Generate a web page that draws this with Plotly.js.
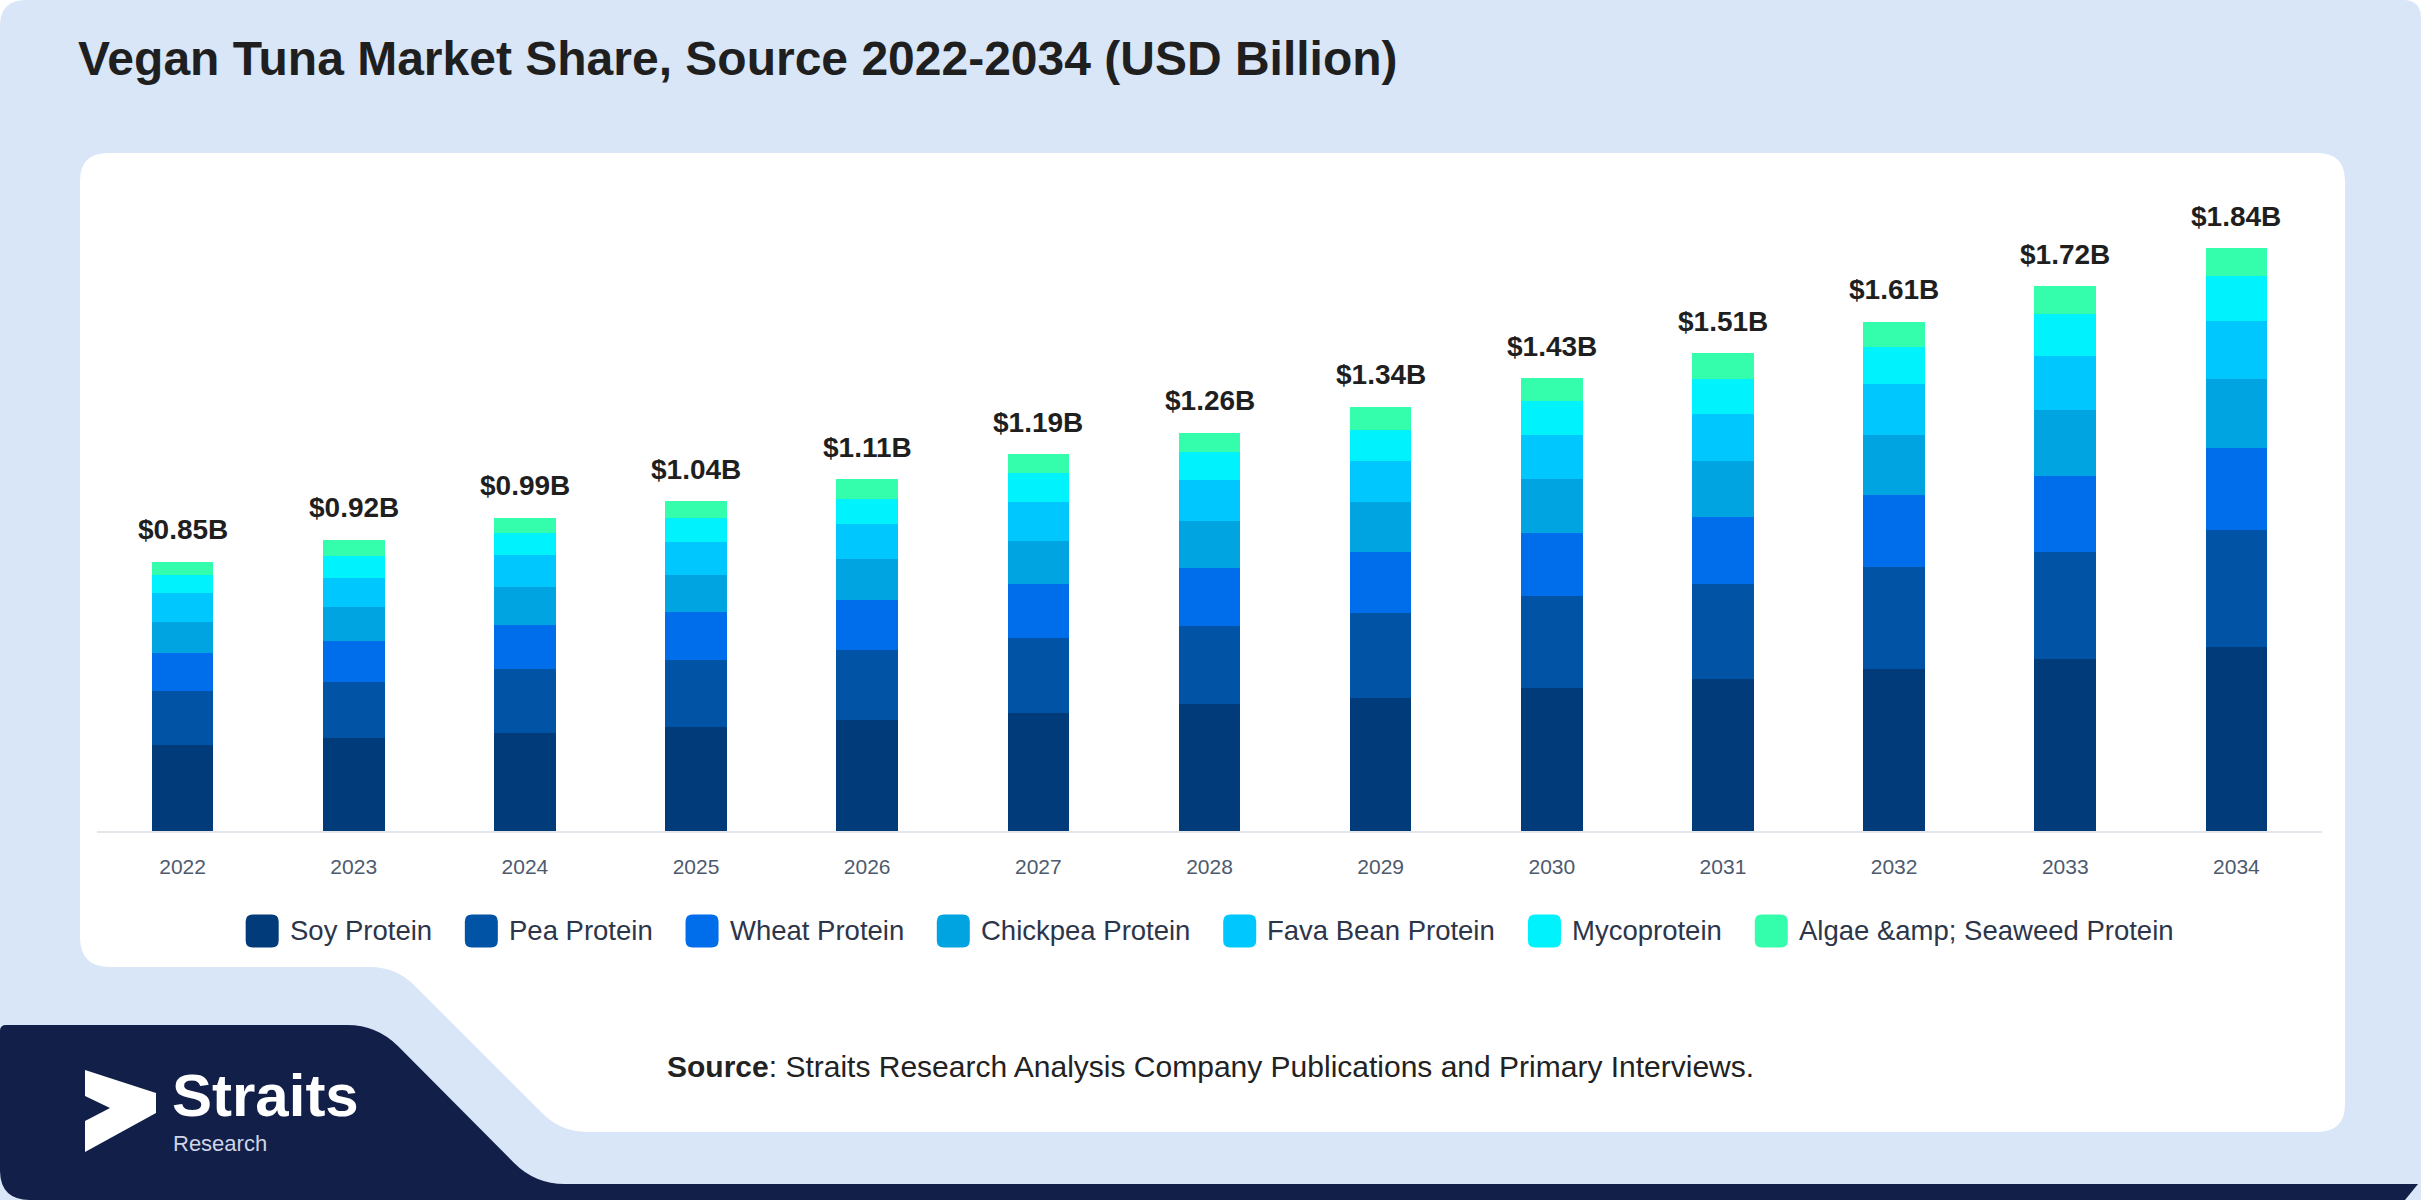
<!DOCTYPE html>
<html>
<head>
<meta charset="utf-8">
<script src="https://cdn.plot.ly/plotly-3.0.1.min.js"></script>
<style>
  html, body { margin: 0; padding: 0; background: #ffffff; overflow: hidden; }
  #chart { width: 2422px; height: 1200px; }
</style>
</head>
<body>
<div id="chart"></div>
<script>
// ---------------- DATA ----------------
const years = ['2022','2023','2024','2025','2026','2027','2028','2029','2030','2031','2032','2033','2034'];
const totals = [0.85, 0.92, 0.99, 1.04, 1.11, 1.19, 1.26, 1.34, 1.43, 1.51, 1.61, 1.72, 1.84];
const seriesNames = ['Soy Protein', 'Pea Protein', 'Wheat Protein', 'Chickpea Protein', 'Fava Bean Protein', 'Mycoprotein', 'Algae &amp; Seaweed Protein'];
const soyProtein      = [0.271, 0.293, 0.311, 0.330, 0.351, 0.372, 0.401, 0.420, 0.453, 0.480, 0.511, 0.543, 0.581];
const peaProtein      = [0.171, 0.178, 0.200, 0.211, 0.221, 0.239, 0.247, 0.270, 0.288, 0.302, 0.322, 0.337, 0.371];
const wheatProtein    = [0.120, 0.128, 0.140, 0.150, 0.159, 0.169, 0.182, 0.191, 0.202, 0.211, 0.229, 0.241, 0.258];
const chickpeaProtein = [0.097, 0.108, 0.120, 0.119, 0.128, 0.137, 0.149, 0.158, 0.169, 0.177, 0.188, 0.209, 0.219];
const favaBeanProtein = [0.093, 0.091, 0.100, 0.102, 0.112, 0.123, 0.129, 0.131, 0.139, 0.148, 0.162, 0.172, 0.182];
const mycoprotein     = [0.058, 0.070, 0.070, 0.077, 0.079, 0.090, 0.091, 0.098, 0.109, 0.111, 0.116, 0.130, 0.141];
const algaeSeaweed    = [0.041, 0.050, 0.049, 0.053, 0.061, 0.060, 0.060, 0.071, 0.070, 0.080, 0.081, 0.089, 0.089];
const seriesValues = [soyProtein, peaProtein, wheatProtein, chickpeaProtein, favaBeanProtein, mycoprotein, algaeSeaweed];
const titleText = 'Vegan Tuna Market Share, Source 2022-2034 (USD Billion)';
const sourceText = '<b>Source</b>: Straits Research Analysis Company Publications and Primary Interviews.';

// ---------------- STYLE ----------------
const colors = ['#023b79', '#0153a6', '#006deb', '#00a4e1', '#00c7fd', '#00f2fc', '#34fdab'];
const FONT = 'Liberation Sans, Arial, Helvetica, sans-serif';
const W = 2422, H = 1200;
const M = { l: 97, r: 100, t: 198, b: 369 };
const PW = W - M.l - M.r, PH = H - M.t - M.b;
const X = px => (px - M.l) / PW;
const Y = py => (H - M.b - py) / PH;

function roundedPoly(pts) {
  const n = pts.length;
  let d = '';
  const f = (x, y) => X(x).toFixed(5) + ',' + Y(y).toFixed(5);
  for (let i = 0; i < n; i++) {
    const p = pts[i], prev = pts[(i - 1 + n) % n], next = pts[(i + 1) % n];
    const r = p[2] || 0;
    const cmd = i === 0 ? 'M' : 'L';
    if (r > 0) {
      const dx1 = prev[0] - p[0], dy1 = prev[1] - p[1], l1 = Math.hypot(dx1, dy1);
      const dx2 = next[0] - p[0], dy2 = next[1] - p[1], l2 = Math.hypot(dx2, dy2);
      const ax = p[0] + dx1 / l1 * r, ay = p[1] + dy1 / l1 * r;
      const bx = p[0] + dx2 / l2 * r, by = p[1] + dy2 / l2 * r;
      d += cmd + f(ax, ay) + ' Q' + f(p[0], p[1]) + ' ' + f(bx, by) + ' ';
    } else {
      d += cmd + f(p[0], p[1]) + ' ';
    }
  }
  return d + 'Z';
}
function pshape(pts, color) {
  return { type: 'path', xref: 'paper', yref: 'paper', layer: 'below', path: roundedPoly(pts),
           fillcolor: color, line: { width: 0 } };
}

// ---------------- TRACES ----------------
const traces = seriesNames.map((name, i) => ({
  type: 'bar',
  name: name.replace('&amp;', '&'),
  x: years,
  y: seriesValues[i],
  marker: { color: colors[i], line: { width: 0 } },
  showlegend: false,
  hoverinfo: 'skip'
}));

// ---------------- DECOR ----------------
const shapes = [
  pshape([[0, 0, 26], [2421, 0, 18], [2421, 1200, 0], [0, 1200, 0]], '#d9e6f8'),
  pshape([[80, 153, 28], [2345, 153, 28], [2345, 1132, 28], [561, 1132, 26], [396, 967, 26], [80, 967, 30]], '#ffffff'),
  pshape([[0, 1025, 6], [377, 1025, 30], [535, 1184, 30], [2418, 1184, 0], [2405, 1200, 0], [0, 1200, 30]], '#121f48'),
  pshape([[85, 1070, 0], [156, 1093, 0], [156, 1113, 0], [85, 1152, 0], [85, 1121, 0], [110, 1108, 0], [85, 1096, 0]], '#ffffff')
];

const annotations = [];
function ann(px, py, text, size, color, xanchor, extra) {
  annotations.push(Object.assign({
    xref: 'paper', yref: 'paper', x: X(px), y: Y(py), text: text, showarrow: false,
    xanchor: xanchor, yanchor: 'middle', font: { family: FONT, size: size, color: color }
  }, extra || {}));
}
ann(76, 58, '<b>' + titleText + '</b>', 48, '#1f1f1f', 'left');
ann(1210, 1066, sourceText, 30, '#222222', 'center');
ann(170, 1095, '<b>Straits</b>', 60, '#ffffff', 'left', { height: 50, valign: 'middle' });
ann(171, 1143, 'Research', 22, '#cfd5e6', 'left', { height: 20, valign: 'middle' });

// total labels above stacks (category index positions)
years.forEach((yr, i) => {
  annotations.push({
    xref: 'x', yref: 'y', x: i, y: totals[i], yanchor: 'middle', xanchor: 'center', yshift: 32,
    text: '<b>$' + totals[i].toFixed(2) + 'B</b>', showarrow: false,
    font: { family: FONT, size: 28, color: '#1f1f1f' }
  });
});

// custom legend
const LEG_SIZE = 27.5, MK = 33, GAP_IN = 11, GAP_OUT = 33, LEG_CY = 931;
const ctx = document.createElement('canvas').getContext('2d');
ctx.font = LEG_SIZE + 'px "Liberation Sans", Arial, sans-serif';
const widths = seriesNames.map(n => ctx.measureText(n).width);
const totalW = widths.reduce((a, w) => a + MK + GAP_IN + w, 0) + GAP_OUT * (seriesNames.length - 1);
let cx = (M.l + (W - M.r)) / 2 - totalW / 2;
seriesNames.forEach((n, i) => {
  shapes.push(pshape([[cx, LEG_CY - MK / 2, 7], [cx + MK, LEG_CY - MK / 2, 7], [cx + MK, LEG_CY + MK / 2, 7], [cx, LEG_CY + MK / 2, 7]], colors[i]));
  ann(cx + MK + GAP_IN - 2, LEG_CY - 1, n.replace(/&/g, '&amp;'), LEG_SIZE, '#2c3549', 'left');
  cx += MK + GAP_IN + widths[i] + GAP_OUT;
});

const layout = {
  width: W, height: H,
  margin: M,
  paper_bgcolor: '#ffffff',
  plot_bgcolor: 'rgba(0,0,0,0)',
  barmode: 'stack',
  bargap: 0.64,
  showlegend: false,
  font: { family: FONT },
  xaxis: {
    type: 'category',
    categoryorder: 'array', categoryarray: years,
    range: [-0.5, years.length - 0.5], autorange: false,
    showline: true, linecolor: '#e3e6ea', linewidth: 2,
    showgrid: false, zeroline: false, ticks: '',
    tickfont: { family: FONT, size: 21, color: '#4d5a6e' },
    ticklabelstandoff: 16,
    fixedrange: true
  },
  yaxis: {
    range: [0, 2.0], autorange: false, visible: false, showgrid: false, zeroline: false, fixedrange: true
  },
  shapes: shapes,
  annotations: annotations
};

Plotly.newPlot('chart', traces, layout, { displayModeBar: false, staticPlot: true });
</script>
</body>
</html>
